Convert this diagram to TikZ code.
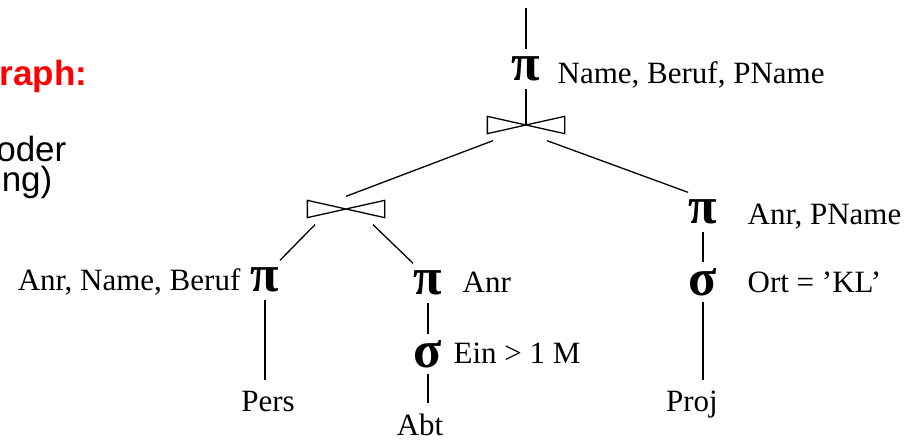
\documentclass[tikz,border=0pt]{standalone}
\usepackage{fontspec}
\setmainfont{Liberation Serif}
\newfontfamily\headfont{Liberation Sans}
\usetikzlibrary{calc}

\tikzset{
  op/.style={font=\bfseries\fontsize{52}{52}\selectfont, inner sep=0pt, minimum width=28pt, minimum height=38pt},
  cond/.style={font=\fontsize{31}{31}\selectfont, inner sep=0pt},
  leaf/.style={font=\fontsize{31}{31}\selectfont, inner sep=10pt, anchor=base},
  joinbox/.style={minimum width=76pt, minimum height=16pt, inner sep=0pt},
  side/.style={font=\headfont\fontsize{35}{35}\selectfont, inner sep=0pt, anchor=base east},
}

\begin{document}
\begin{tikzpicture}[x=1pt, y=-1pt, line width=1.3pt]
    \useasboundingbox (0,0) rectangle (919,441);

    % text cut off at the left
    \node[side, text=red, font=\headfont\bfseries\fontsize{35}{35}\selectfont] (title) at (88,86) {raph:};
    \node[side] (txta) at (67,162) {oder};
    \node[side] (txtb) at (53,192) {ng)};

    % operator tree
    \coordinate (top) at (526,8);
    \node[op] (pr1) at (526,69) {π};
    \node[cond, anchor=base west] (lpr1) at (557,84) {Name, Beruf, PName};
    \node[joinbox] (j1) at (526,125) {};
    \node[joinbox] (j2) at (346,209) {};
    \node[op] (pr2) at (265,280) {π};
    \node[cond, anchor=base east] (lpr2) at (241,290) {Anr, Name, Beruf};
    \node[op] (pr3) at (428,283) {π};
    \node[cond, anchor=base west] (lpr3) at (462,292) {Anr};
    \node[op] (sel1) at (428,354) {σ};
    \node[cond, anchor=base west] (lsel1) at (453,363) {Ein > 1 M};
    \node[op] (pr4) at (703,212) {π};
    \node[cond, anchor=base west] (lpr4) at (747,224) {Anr, PName};
    \node[op] (sel2) at (703,282) {σ};
    \node[cond, anchor=base west] (lsel2) at (747,292) {Ort = 'KL'};
    \node[leaf] (pers) at (268,411) {Pers};
    \node[leaf] (abt) at (420,435) {Abt};
    \node[leaf] (proj) at (692,411) {Proj};

    % join symbols
    \foreach \j in {j1,j2}
      \draw (\j.north west) -- (\j.south east) -- (\j.north east) -- (\j.south west) -- cycle;

    % edges
    \draw (top) -- (pr1);
    \draw (pr1) -- (j1.center);
    \draw ($(j1.south)+(-33,7)$) -- ($(j2.north)+(0,-4)$);
    \draw ($(j1.south)+(21,7)$) -- (pr4.north west);
    \draw ($(j2.south)+(-31,7)$) -- (pr2.north east);
    \draw ($(j2.south)+(27,7)$) -- (pr3.north west);
    \draw (pr2) -- (pr2 |- pers.north);
    \draw (pr3) -- (sel1);
    \draw (sel1) -- (sel1 |- abt.north);
    \draw (pr4) -- (sel2);
    \draw (sel2) -- (sel2 |- proj.north);
\end{tikzpicture}
\end{document}
